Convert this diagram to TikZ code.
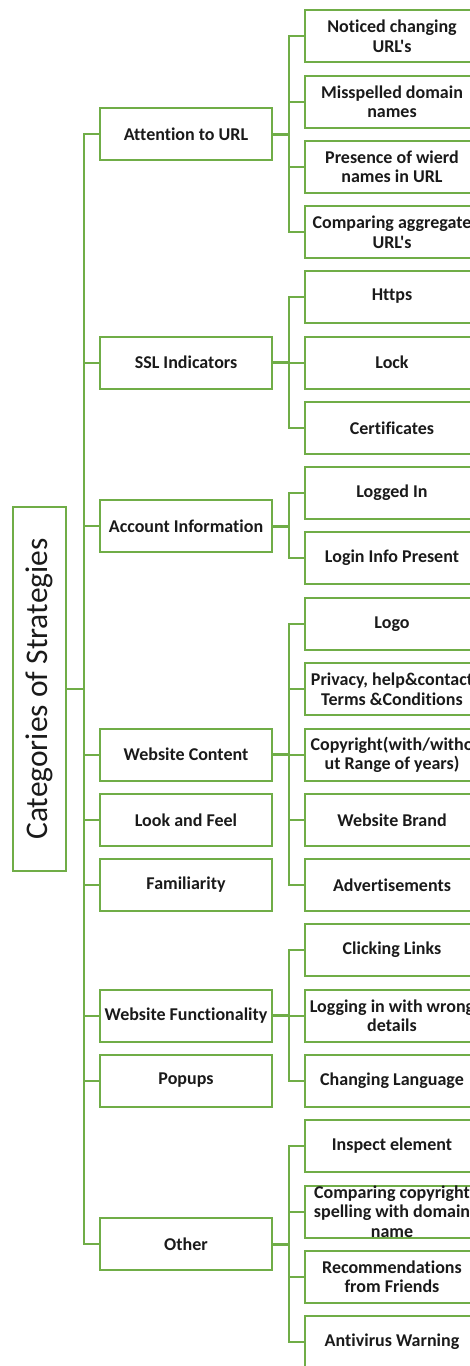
\documentclass[tikz,border=0pt]{standalone}
\usepackage{fontspec}
\newfontfamily\calfont{Carlito}[Ligatures=NoCommon]
\usepackage{graphicx}
\definecolor{lgreen}{HTML}{70AD47}
\definecolor{txt}{HTML}{1A1A1A}
\begin{document}
\begin{tikzpicture}[x=1pt,y=-1pt,
  box/.style={draw=lgreen,line width=2pt,rectangle,inner sep=0pt,align=center,text=txt,
    font=\calfont\bfseries\fontsize{18}{19.5}\selectfont,minimum height=52pt},
  cat/.style={box,minimum width=172pt},
  leaf/.style={box,minimum width=174pt},
  link/.style={draw=lgreen,line width=2pt},
  stem/.style={draw=lgreen,line width=3pt}]
\useasboundingbox (0,0) rectangle (470,1366);
\clip (0,0) rectangle (470,1366);
% root
\node[draw=lgreen,line width=2pt,rectangle,inner sep=0pt,minimum width=53pt,minimum height=364pt,text=txt] (root) at (39.5,689)
  {\rotatebox{90}{\calfont\fontsize{31.5}{34}\selectfont Categories of Strategies}};
% categories
\node[cat] (c1) at (186,134) {Attention to URL};
\node[cat] (c2) at (186,362.5) {SSL Indicators};
\node[cat] (c3) at (186,526) {Account Information};
\node[cat] (c4) at (186,754.5) {Website Content};
\node[cat] (c5) at (186,820) {Look and Feel};
\node[cat] (c6) at (186,885) {Familiarity};
\node[cat] (c7) at (186,1015.5) {Website Functionality};
\node[cat] (c8) at (186,1080.5) {Popups};
\node[cat] (c9) at (186,1244) {Other};
% leaves
\node[leaf] (l11) at (392,36) {Noticed changing\\URL's};
\node[leaf] (l12) at (392,101.5) {Misspelled domain\\names};
\node[leaf] (l13) at (392,166.5) {Presence of wierd\\names in URL};
\node[leaf] (l14) at (392,232) {Comparing aggregate\\URL's};
\node[leaf] (l21) at (392,296.5) {Https};
\node[leaf] (l22) at (392,362.5) {Lock};
\node[leaf] (l23) at (392,428) {Certificates};
\node[leaf] (l31) at (392,493) {Logged In};
\node[leaf] (l32) at (392,558) {Login Info Present};
\node[leaf] (l41) at (392,624) {Logo};
\node[leaf] (l42) at (392,689) {Privacy, help\&contact\\Terms \&Conditions};
\node[leaf] (l43) at (392,755) {Copyright(with/witho\\ut Range of years)};
\node[leaf] (l44) at (392,820) {Website Brand};
\node[leaf] (l45) at (392,885) {Advertisements};
\node[leaf] (l71) at (392,950) {Clicking Links};
\node[leaf] (l72) at (392,1015.5) {Logging in with wrong\\details};
\node[leaf] (l73) at (392,1080.5) {Changing Language};
\node[leaf] (l91) at (392,1146) {Inspect element};
\node[leaf] (l92) at (392,1211.5) {Comparing copyright\\spelling with domain\\name};
\node[leaf] (l93) at (392,1276.5) {Recommendations\\from Friends};
\node[leaf] (l94) at (392,1342) {Antivirus Warning};
% trunk
\foreach \c in {c1,c2,c3,c4,c5,c6,c7,c8,c9}
  \draw[link] (root.east) -- ++(17,0) |- (\c.west);
% branches
\foreach \c/\l in {c1/l11,c1/l12,c1/l13,c1/l14,c2/l21,c2/l22,c2/l23,c3/l31,c3/l32,
  c4/l41,c4/l42,c4/l43,c4/l44,c4/l45,c7/l71,c7/l72,c7/l73,c9/l91,c9/l92,c9/l93,c9/l94}
  \draw[link] (\c.east) -- ++(16,0) |- (\l.west);
\foreach \c in {c1,c2,c3,c4,c7,c9}
  \draw[stem] (\c.east) -- ++(17,0);
\end{tikzpicture}
\end{document}
